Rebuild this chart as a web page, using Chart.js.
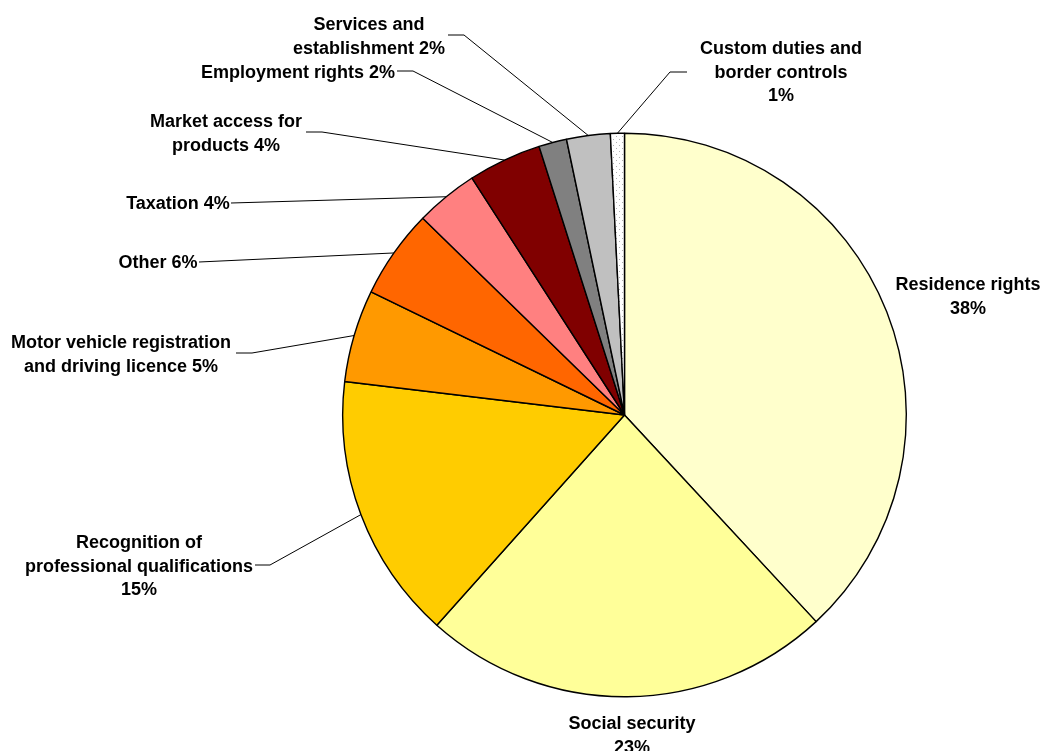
<!DOCTYPE html>
<html>
<head>
<meta charset="utf-8">
<script src="https://cdn.jsdelivr.net/npm/chart.js@4/dist/chart.umd.min.js"></script>
<style>
  html, body { margin: 0; padding: 0; background: #fff; }
  #wrap { width: 1042px; height: 751px; }
</style>
</head>
<body>
<div id="wrap"><canvas id="canvas" width="1042" height="751"></canvas></div>
<script>
document.addEventListener("DOMContentLoaded", () => {

const categories = ['Residence rights', 'Social security', 'Recognition of professional qualifications',
  'Motor vehicle registration and driving licence', 'Other', 'Taxation', 'Market access for products',
  'Employment rights', 'Services and establishment', 'Custom duties and border controls']
const shares = [38.1, 23.5, 15.3, 5.3, 5.1, 3.6, 4.2, 1.6, 2.5, 0.8]
const shownPct = ['38%', '23%', '15%', '5%', '6%', '4%', '4%', '2%', '2%', '1%']

const sliceColors = ['#FFFFCC', '#FFFF99', '#FFCC00', '#FF9900', '#FF6600', '#FF8080',
  '#800000', '#808080', '#C0C0C0', 'dots']

// label layout: words per line, whether % goes on its own line, text centre, leader start / elbow
const labelLayout = [
  { wrap: [2], pctLine: true, x: 968, y: 284 },
  { wrap: [2], pctLine: true, x: 632, y: 723 },
  { wrap: [2, 2], pctLine: true, x: 139, y: 542, from: [255, 565], elbow: [270, 565] },
  { wrap: [3, 3], pctLine: false, x: 121, y: 342, from: [236, 353], elbow: [252, 353] },
  { wrap: [1], pctLine: false, x: 158, y: 262, from: [199, 262] },
  { wrap: [1], pctLine: false, x: 178, y: 203, from: [231, 203] },
  { wrap: [3, 1], pctLine: false, x: 226, y: 121, from: [306, 132], elbow: [322, 132] },
  { wrap: [2], pctLine: false, x: 298, y: 72, from: [397, 71], elbow: [413, 71] },
  { wrap: [2, 1], pctLine: false, x: 369, y: 24, from: [448, 35], elbow: [464, 35] },
  { wrap: [3, 2], pctLine: true, x: 781, y: 48, from: [687, 72], elbow: [670, 72] }
]

function labelLines(i) {
  const words = categories[i].split(' ')
  const lay = labelLayout[i]
  const lines = []
  let k = 0
  lay.wrap.forEach(n => { lines.push(words.slice(k, k + n).join(' ')); k += n })
  if (lay.pctLine) lines.push(shownPct[i])
  else lines[lines.length - 1] += ' ' + shownPct[i]
  return lines
}

// dotted fill for the tiny slice
function dotPattern(ctx) {
  const c = document.createElement('canvas')
  c.width = 6; c.height = 6
  const p = c.getContext('2d')
  p.fillStyle = '#fff'; p.fillRect(0, 0, 6, 6)
  p.fillStyle = '#b0b0b0'
  p.fillRect(1, 1, 1, 1); p.fillRect(4, 4, 1, 1)
  return ctx.createPattern(c, 'repeat')
}

const canvas = document.getElementById('canvas')
const ctx = canvas.getContext('2d')
const fills = sliceColors.map(c => c === 'dots' ? dotPattern(ctx) : c)

const labelPlugin = {
  id: 'sliceLabels',
  afterDatasetsDraw(chart) {
    const c = chart.ctx
    const arcs = chart.getDatasetMeta(0).data
    c.save()
    c.font = 'bold 18px "Liberation Sans", Arial, sans-serif'
    c.fillStyle = '#000'
    c.textAlign = 'center'
    c.textBaseline = 'middle'
    arcs.forEach((arc, i) => {
      const lay = labelLayout[i]
      labelLines(i).forEach((line, j) => c.fillText(line, lay.x, lay.y + 1 + j * 23.7))
      if (lay.from) {
        const a = (arc.startAngle + arc.endAngle) / 2
        const ex = arc.x + arc.outerRadius * Math.cos(a)
        const ey = arc.y + arc.outerRadius * Math.sin(a)
        c.beginPath()
        c.strokeStyle = '#000'
        c.lineWidth = 1
        c.moveTo(lay.from[0], lay.from[1])
        if (lay.elbow) c.lineTo(lay.elbow[0], lay.elbow[1])
        c.lineTo(ex, ey)
        c.stroke()
      }
    })
    c.restore()
  }
}

new Chart(ctx, {
  type: 'pie',
  data: {
    labels: categories,
    datasets: [{
      data: shares,
      backgroundColor: fills,
      borderColor: '#000',
      borderWidth: 1.4,
      hoverOffset: 0
    }]
  },
  options: {
    responsive: false,
    animation: false,
    layout: { padding: { top: 132, bottom: 53, left: 342, right: 135 } },
    plugins: {
      legend: { display: false },
      tooltip: { enabled: false }
    }
  },
  plugins: [labelPlugin]
})

})
</script>
</body>
</html>
